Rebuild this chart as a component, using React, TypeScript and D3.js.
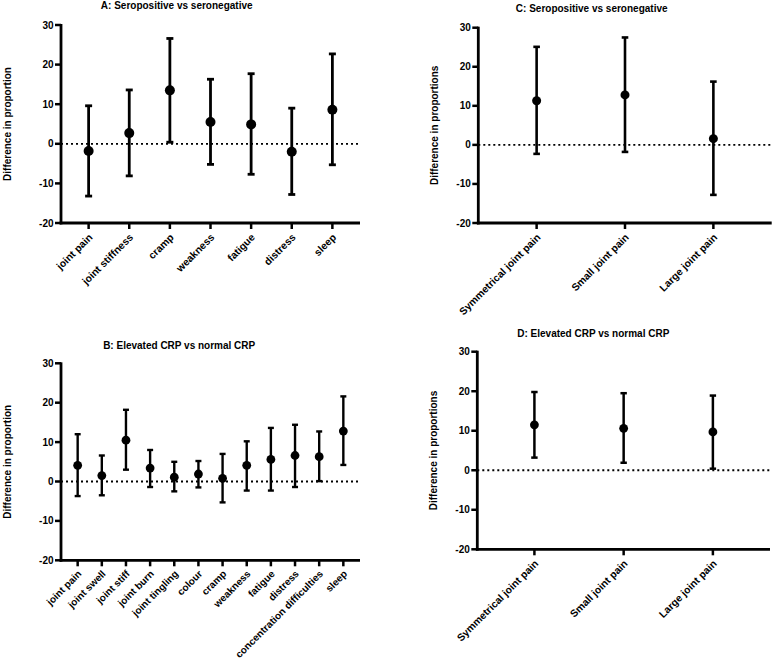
import React from "react";
import * as d3 from "d3";

// ---------- Data ----------
const catsA = ["joint pain", "joint stiffness", "cramp", "weakness", "fatigue", "distress", "sleep"];
const meanA = [-1.8, 2.7, 13.5, 5.5, 4.9, -2.0, 8.6];
const lowA = [-13.2, -8.1, 0.4, -5.2, -7.7, -12.8, -5.3];
const highA = [9.6, 13.6, 26.6, 16.3, 17.7, 9.0, 22.7];

const catsB = [
  "joint pain", "joint swell", "joint stiff", "joint burn", "joint tingling", "colour",
  "cramp", "weakness", "fatigue", "distress", "concentration difficulties", "sleep",
];
const meanB = [4.1, 1.5, 10.5, 3.4, 1.1, 1.9, 0.8, 4.1, 5.6, 6.6, 6.3, 12.8];
const lowB = [-3.7, -3.5, 3.0, -1.4, -2.5, -1.5, -5.3, -2.3, -2.3, -1.4, 0.1, 4.2];
const highB = [12.0, 6.6, 18.2, 8.0, 5.0, 5.2, 7.0, 10.2, 13.6, 14.4, 12.7, 21.6];

const catsC = ["Symmetrical joint pain", "Small joint pain", "Large joint pain"];
const meanC = [11.3, 12.8, 1.6];
const lowC = [-2.3, -1.8, -12.8];
const highC = [25.1, 27.5, 16.2];

const catsD = ["Symmetrical joint pain", "Small joint pain", "Large joint pain"];
const meanD = [11.5, 10.6, 9.7];
const lowD = [3.2, 1.9, 0.4];
const highD = [19.8, 19.5, 18.9];

const yTicks = [-20, -10, 0, 10, 20, 30];
const yDomain: [number, number] = [-20, 30];

const FONT = "'Liberation Sans', Arial, Helvetica, sans-serif";

type PanelProps = {
  title: string;
  titleX: number;
  titleY: number;
  yLabel: string;
  yLabelX: number;
  cats: string[];
  mean: number[];
  low: number[];
  high: number[];
  x0: number;
  x1: number;
  yTop: number;
  yBottom: number;
  padding: number;
  r: number;
  barW: number;
  capHalf: number;
  catFont: number;
  catDy: number;
};

function Panel(p: PanelProps) {
  const y = d3.scaleLinear().domain(yDomain).range([p.yBottom, p.yTop]);
  const x = d3.scalePoint<string>().domain(p.cats).range([p.x0, p.x1]).padding(p.padding);
  const tickLen = 6;
  const axisW = 2.8;
  return (
    <g fontFamily={FONT} fontWeight="bold" fill="#000">
      <text x={p.titleX} y={p.titleY} textAnchor="middle" fontSize={10}>
        {p.title}
      </text>
      <text
        transform={`translate(${p.yLabelX},${(p.yTop + p.yBottom) / 2}) rotate(-90)`}
        textAnchor="middle"
        fontSize={10}
      >
        {p.yLabel}
      </text>
      {/* zero dotted line */}
      <line
        x1={p.x0}
        x2={p.x1}
        y1={y(0)}
        y2={y(0)}
        stroke="#000"
        strokeWidth={1.8}
        strokeDasharray="2,3"
      />
      {/* y axis */}
      <line x1={p.x0} x2={p.x0} y1={p.yTop - 1} y2={p.yBottom + 1.4} stroke="#000" strokeWidth={axisW} />
      {yTicks.map((t) => (
        <g key={t}>
          <line x1={p.x0 - tickLen} x2={p.x0} y1={y(t)} y2={y(t)} stroke="#000" strokeWidth={2.5} />
          <text x={p.x0 - tickLen - 1.5} y={y(t)} dy="0.35em" textAnchor="end" fontSize={10}>
            {t}
          </text>
        </g>
      ))}
      {/* x axis */}
      <line x1={p.x0 - 1.4} x2={p.x1} y1={p.yBottom} y2={p.yBottom} stroke="#000" strokeWidth={axisW} />
      {p.cats.map((c) => {
        const cx = x(c) as number;
        return (
          <g key={c}>
            <line x1={cx} x2={cx} y1={p.yBottom} y2={p.yBottom + tickLen} stroke="#000" strokeWidth={2.5} />
            <text
              transform={`translate(${cx + 4.5},${p.yBottom + p.catDy}) rotate(-45)`}
              textAnchor="end"
              fontSize={p.catFont}
            >
              {c}
            </text>
          </g>
        );
      })}
      {/* error bars */}
      {p.cats.map((c, i) => {
        const cx = x(c) as number;
        return (
          <g key={"e" + c} stroke="#000" strokeWidth={p.barW}>
            <line x1={cx} x2={cx} y1={y(p.high[i])} y2={y(p.low[i])} />
            <line x1={cx - p.capHalf} x2={cx + p.capHalf} y1={y(p.high[i])} y2={y(p.high[i])} />
            <line x1={cx - p.capHalf} x2={cx + p.capHalf} y1={y(p.low[i])} y2={y(p.low[i])} />
            <circle cx={cx} cy={y(p.mean[i])} r={p.r} fill="#000" stroke="none" />
          </g>
        );
      })}
    </g>
  );
}

export default function App() {
  return (
    <svg
      width={778}
      height={661}
      style={{ position: "absolute", left: 0, top: 0, background: "#fff" }}
    >
      <rect width={778} height={661} fill="#fff" />
      <Panel
        title="A: Seropositive vs seronegative"
        titleX={176.7}
        titleY={9}
        yLabel="Difference in proportion"
        yLabelX={10.5}
        cats={catsA}
        mean={meanA}
        low={lowA}
        high={highA}
        x0={61}
        x1={360}
        yTop={25}
        yBottom={223}
        padding={0.68}
        r={5}
        barW={2.8}
        capHalf={3.5}
        catFont={10.3}
        catDy={15}
      />
      <Panel
        title="B: Elevated CRP vs normal CRP"
        titleX={179.2}
        titleY={349}
        yLabel="Difference in proportion"
        yLabelX={10.5}
        cats={catsB}
        mean={meanB}
        low={lowB}
        high={highB}
        x0={61}
        x1={360}
        yTop={363.3}
        yBottom={560.3}
        padding={0.69}
        r={4.4}
        barW={2.4}
        capHalf={3}
        catFont={10}
        catDy={14.2}
      />
      <Panel
        title="C: Seropositive vs seronegative"
        titleX={591.7}
        titleY={11.5}
        yLabel="Difference in proportions"
        yLabelX={438}
        cats={catsC}
        mean={meanC}
        low={lowC}
        high={highC}
        x0={478.3}
        x1={771.7}
        yTop={27.7}
        yBottom={223}
        padding={0.66}
        r={4.5}
        barW={2.6}
        capHalf={3.3}
        catFont={10.3}
        catDy={15}
      />
      <Panel
        title="D: Elevated CRP vs normal CRP"
        titleX={593.3}
        titleY={337}
        yLabel="Difference in proportions"
        yLabelX={437}
        cats={catsD}
        mean={meanD}
        low={lowD}
        high={highD}
        x0={477.3}
        x1={770}
        yTop={351.7}
        yBottom={549.3}
        padding={0.64}
        r={4.4}
        barW={2.5}
        capHalf={3.2}
        catFont={10.3}
        catDy={15}
      />
    </svg>
  );
}
